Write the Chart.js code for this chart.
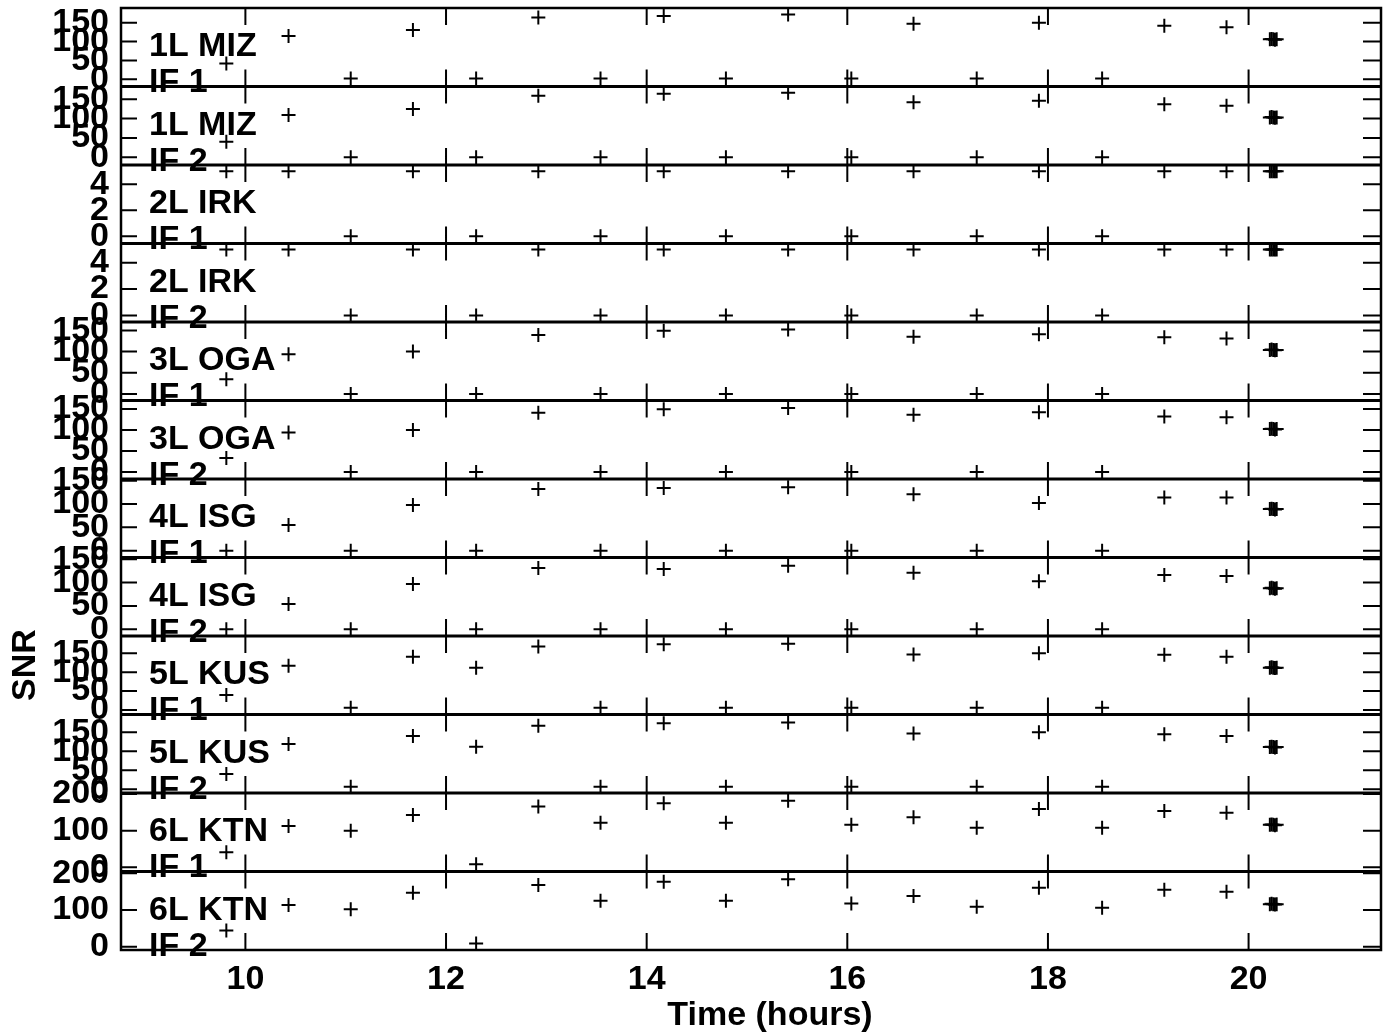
<!DOCTYPE html>
<html>
<head>
<meta charset="utf-8">
<script src="https://cdn.jsdelivr.net/npm/chart.js@4/dist/chart.umd.min.js"></script>
<style>
  html, body { margin: 0; padding: 0; background: #ffffff; }
  #wrap { width: 1387px; height: 1034px; }
</style>
</head>
<body>
<div id="wrap"><canvas id="c" width="1387" height="1034"></canvas></div>
<script>
// ---- data ----
const times = [9.81, 10.43, 11.05, 11.67, 12.30, 12.92, 13.54, 14.17, 14.79, 15.41, 16.04, 16.66, 17.29, 17.91, 18.54, 19.16, 19.78, 20.212, 20.229, 20.246, 20.263, 20.28];

const stationLabels = ["1L MIZ", "1L MIZ", "2L IRK", "2L IRK", "3L OGA", "3L OGA", "4L ISG", "4L ISG", "5L KUS", "5L KUS", "6L KTN", "6L KTN"];
const ifLabels = ["IF 1", "IF 2", "IF 1", "IF 2", "IF 1", "IF 2", "IF 1", "IF 2", "IF 1", "IF 2", "IF 1", "IF 2"];

const snrMizIf1 = [42, 115, 2, 131, 2, 164, 2, 168, 2, 172, 2, 147, 2, 150, 2, 142, 138, 106, 107, 106, 105, 106];
const snrMizIf2 = [40, 109, 0, 125, 0, 159, 0, 164, 0, 167, 0, 142, 0, 146, 0, 137, 133, 103, 104, 103, 102, 103];
const snrIrkIf1 = [5, 5, 0, 5, 0, 5, 0, 5, 0, 5, 0, 5, 0, 5, 0, 5, 5, 5, 5, 5, 5, 5];
const snrIrkIf2 = [5, 5, 0, 5, 0, 5, 0, 5, 0, 5, 0, 5, 0, 5, 0, 5, 5, 5, 5, 5, 5, 5];
const snrOgaIf1 = [35, 94, 0, 100, 0, 139, 0, 149, 0, 152, 0, 135, 0, 141, 0, 134, 131, 104, 105, 104, 103, 104];
const snrOgaIf2 = [33, 94, 0, 100, 0, 141, 0, 149, 0, 152, 0, 136, 0, 142, 0, 132, 130, 102, 103, 102, 101, 102];
const snrIsgIf1 = [0, 55, 0, 98, 0, 132, 0, 134, 0, 136, 0, 121, 0, 102, 0, 114, 114, 89, 90, 89, 88, 89];
const snrIsgIf2 = [0, 54, 0, 97, 0, 131, 0, 129, 0, 136, 0, 121, 0, 103, 0, 116, 114, 88, 89, 88, 87, 88];
const snrKusIf1 = [40, 117, 6, 141, 112, 168, 6, 174, 6, 175, 6, 147, 6, 150, 6, 146, 141, 112, 113, 112, 111, 112];
const snrKusIf2 = [40, 119, 7, 140, 112, 167, 7, 174, 7, 176, 7, 147, 7, 150, 7, 145, 140, 111, 112, 111, 110, 111];
const snrKtnIf1 = [41, 113, 100, 143, 8, 166, 122, 175, 122, 182, 116, 137, 108, 159, 108, 154, 149, 116, 117, 116, 115, 116];
const snrKtnIf2 = [44, 114, 102, 147, 9, 168, 125, 177, 125, 184, 118, 138, 109, 161, 106, 155, 150, 116, 117, 116, 115, 116];

const panelSeries = [snrMizIf1, snrMizIf2, snrIrkIf1, snrIrkIf2, snrOgaIf1, snrOgaIf2, snrIsgIf1, snrIsgIf2, snrKusIf1, snrKusIf2, snrKtnIf1, snrKtnIf2];

// axis ranges and tick steps per panel (top to bottom)
const yMin = [-19, -20, -0.55, -0.5, -15.3, -16.7, -14.6, -14.3, -11.9, -9.7, -11.5, -9];
const yMax = [189, 183, 5.47, 5.45, 169.8, 170, 153.5, 153.7, 195.8, 196.8, 203, 205];
const yStep = [50, 50, 2, 2, 50, 50, 50, 50, 50, 50, 100, 100];

const xMin = 8.76, xMax = 21.32, xStep = 2;
const xTitle = "Time (hours)";
const yTitle = "SNR";

// ---- chart ----
const FONT = "'Liberation Sans', Arial, Helvetica, sans-serif";
const FSIZE = 34;
Chart.defaults.font.family = FONT;
Chart.defaults.color = '#000000';

const datasets = panelSeries.map((vals, p) => ({
  label: stationLabels[p] + ' ' + ifLabels[p],
  data: times.map((t, i) => ({ x: t, y: vals[i] })),
  yAxisID: 'y' + p,
  showLine: false,
  pointStyle: 'cross',
  pointRadius: 7,
  pointHoverRadius: 7,
  pointBorderWidth: 2,
  borderColor: '#000000',
  backgroundColor: '#000000'
}));

const scales = {
  x: {
    type: 'linear',
    position: 'bottom',
    min: xMin,
    max: xMax,
    grid: { display: false, drawTicks: false },
    border: { display: false },
    ticks: {
      stepSize: xStep,
      includeBounds: false,
      padding: 9,
      color: '#000000',
      font: { size: FSIZE, weight: 'bold' },
      maxRotation: 0,
      autoSkip: false
    },
    afterFit: (s) => { s.height = 84; s.paddingLeft = 0; s.paddingRight = 0; s.paddingTop = 0; s.paddingBottom = 0; }
  }
};
for (let p = 0; p < 12; p++) {
  scales['y' + p] = {
    type: 'linear',
    position: 'left',
    stack: 'panels',
    stackWeight: 1,
    weight: 12 - p,
    min: yMin[p],
    max: yMax[p],
    grid: { display: false, drawTicks: false },
    border: { display: false },
    ticks: {
      stepSize: yStep[p],
      includeBounds: false,
      autoSkip: false,
      padding: 12,
      color: '#000000',
      font: { size: FSIZE, weight: 'bold' }
    },
    afterFit: (s) => { s.width = 121; s.paddingTop = 0; s.paddingBottom = 0; s.paddingLeft = 0; s.paddingRight = 0; }
  };
}

const framePlugin = {
  id: 'aipsFrame',
  afterDraw(chart) {
    const ctx = chart.ctx;
    const area = chart.chartArea;
    const xs = chart.scales.x;
    ctx.save();
    ctx.strokeStyle = '#000000';
    ctx.fillStyle = '#000000';
    ctx.lineCap = 'butt';

    // ticks
    ctx.lineWidth = 2;
    for (let p = 0; p < 12; p++) {
      const ys = chart.scales['y' + p];
      ctx.beginPath();
      xs.ticks.forEach(t => {
        const px = xs.getPixelForValue(t.value);
        ctx.moveTo(px, ys.top); ctx.lineTo(px, ys.top + 17);
        ctx.moveTo(px, ys.bottom - 17); ctx.lineTo(px, ys.bottom);
      });
      ys.ticks.forEach(t => {
        const py = ys.getPixelForValue(t.value);
        ctx.moveTo(area.left, py); ctx.lineTo(area.left + 16, py);
        ctx.moveTo(area.right - 18, py); ctx.lineTo(area.right, py);
      });
      ctx.stroke();
    }

    // panel separators
    ctx.lineWidth = 3;
    ctx.beginPath();
    for (let p = 0; p < 11; p++) {
      const ys = chart.scales['y' + p];
      ctx.moveTo(area.left, ys.bottom); ctx.lineTo(area.right, ys.bottom);
    }
    ctx.stroke();

    // outer frame
    ctx.lineWidth = 2.5;
    ctx.strokeRect(area.left, area.top, area.right - area.left, area.bottom - area.top);

    // panel labels
    ctx.font = 'bold ' + FSIZE + 'px ' + FONT;
    ctx.textAlign = 'left';
    ctx.textBaseline = 'alphabetic';
    for (let p = 0; p < 12; p++) {
      const ys = chart.scales['y' + p];
      ctx.fillText(stationLabels[p], area.left + 28, ys.top + 48);
      ctx.fillText(ifLabels[p], area.left + 28, ys.top + 84);
    }

    // axis titles
    ctx.textAlign = 'center';
    ctx.fillText(xTitle, 770, 1025);
    ctx.save();
    ctx.translate(35, 665);
    ctx.rotate(-Math.PI / 2);
    ctx.fillText(yTitle, 0, 0);
    ctx.restore();

    ctx.restore();
  }
};

new Chart(document.getElementById('c'), {
  type: 'scatter',
  data: { datasets },
  options: {
    responsive: false,
    animation: false,
    devicePixelRatio: 1,
    layout: { padding: { left: 0, right: 6, top: 8, bottom: 0 }, autoPadding: false },
    plugins: { legend: { display: false }, tooltip: { enabled: false }, title: { display: false } },
    scales
  },
  plugins: [framePlugin]
});
</script>
</body>
</html>
